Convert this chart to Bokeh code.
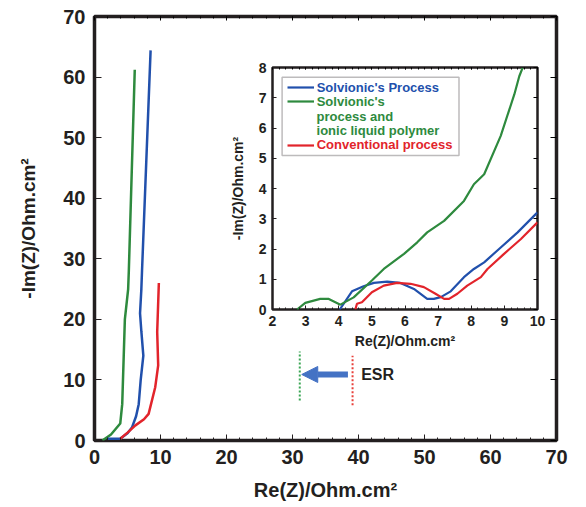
from bokeh.plotting import figure
from bokeh.models import (LinearAxis, SingleIntervalTicker, Range1d, Legend, LegendItem,
                          Label, BoxAnnotation, Arrow, NormalHead, CustomJSTickFormatter)
from bokeh.layouts import column
from bokeh.embed import file_html
from bokeh.resources import INLINE

# ---------------- data ----------------
# main plot, Nyquist curves
green_x = [1.2, 2.5, 3.9, 4.2, 4.6, 5.1, 5.2, 6.1]
green_y = [0.0, 1.0, 2.8, 6.0, 20.0, 25.0, 28.0, 61.2]
blue_x = [1.9, 3.9, 5.0, 5.7, 6.3, 6.7, 7.0, 7.4, 7.1, 6.9, 7.1, 7.2, 8.5]
blue_y = [0.3, 0.3, 1.2, 2.2, 4.0, 6.0, 10.0, 14.0, 18.0, 21.0, 25.0, 28.0, 64.4]
red_x = [3.9, 5.0, 6.2, 7.5, 8.2, 9.2, 9.65, 9.5, 9.75]
red_y = [0.3, 1.3, 2.5, 3.5, 4.4, 8.8, 12.4, 17.9, 26.0]

# inset (zoom on the high-frequency part)
in_green_x = [2.74, 2.99, 3.44, 3.70, 4.05, 4.45, 5.0, 5.36, 5.97, 6.37, 6.67, 7.18, 7.78, 8.08, 8.39, 8.89, 9.30, 9.45, 9.55]
in_green_y = [0.0, 0.22, 0.35, 0.35, 0.16, 0.40, 0.96, 1.34, 1.84, 2.22, 2.55, 2.93, 3.59, 4.14, 4.47, 5.74, 7.11, 7.71, 7.99]
in_blue_x = [4.03, 4.40, 4.75, 5.06, 5.46, 5.86, 6.27, 6.67, 6.87, 7.08, 7.38, 7.78, 8.08, 8.39, 8.89, 9.40, 10.0]
in_blue_y = [0.0, 0.60, 0.77, 0.88, 0.92, 0.88, 0.68, 0.35, 0.35, 0.41, 0.60, 1.07, 1.34, 1.56, 2.05, 2.55, 3.21]
in_red_x = [4.50, 4.55, 4.70, 5.0, 5.36, 5.76, 6.17, 6.57, 6.92, 7.18, 7.33, 7.58, 7.88, 8.29, 8.49, 8.99, 9.50, 10.0]
in_red_y = [0.0, 0.19, 0.24, 0.57, 0.79, 0.88, 0.85, 0.74, 0.52, 0.35, 0.35, 0.52, 0.79, 1.07, 1.34, 1.84, 2.33, 2.88]

labels = ["Solvionic's Process", "Solvionic's", "process and", "ionic liquid polymer", "Conventional process"]

# ESR marker values (main-plot units)
esr_green_x = 31.1
esr_red_x = 39.1
esr_green_y = [6.6, 14.7]
esr_red_y = [5.8, 14.0]
esr_arrow = (38.4, 31.4, 10.9)

# ---------------- style ----------------
BLUE = "#2150ac"
GREEN = "#2e8a3e"
RED = "#e2242b"
DARK = "#231f20"
ARROW_C = "#4472c4"
FONT = "Liberation Sans"

BL, BR, BT, BB = 94, 22, 16, 67   # main-plot borders (left/right shared with the inset)
W, H = 578, 507

blank = CustomJSTickFormatter(code="return ''")

# ---------------- main figure ----------------
p = figure(width=W, height=H, x_range=Range1d(0, 70), y_range=Range1d(0, 70),
           output_backend="svg", toolbar_location=None,
           min_border_left=BL, min_border_right=BR, min_border_top=BT, min_border_bottom=BB)
p.grid.visible = False
p.outline_line_color = DARK
p.outline_line_width = 3.5
p.background_fill_color = "white"

for ax in (p.xaxis[0], p.yaxis[0]):
    ax.ticker = SingleIntervalTicker(interval=10, num_minor_ticks=5)
    ax.axis_line_alpha = 0
    ax.major_tick_out = 0
    ax.minor_tick_out = 0
    ax.major_tick_line_color = DARK
    ax.minor_tick_line_color = DARK
    ax.major_label_text_font = FONT
    ax.major_label_text_font_style = "bold"
    ax.major_label_text_font_size = "20px"
    ax.major_label_text_color = DARK
    ax.axis_label_text_font = FONT
    ax.axis_label_text_font_style = "bold"
    ax.axis_label_text_color = DARK

p.xaxis.axis_label = "Re(Z)/Ohm.cm²"
p.xaxis.axis_label_text_font_size = "20px"
p.xaxis.major_tick_in = 6
p.xaxis.minor_tick_in = 3
p.xaxis.major_label_standoff = 9
p.xaxis.axis_label_standoff = 12

p.yaxis.axis_label = "-Im(Z)/Ohm.cm²"
p.yaxis.axis_label_text_font_size = "19px"
p.yaxis.major_tick_in = 7
p.yaxis.minor_tick_in = 0
p.yaxis.major_label_standoff = 9
p.yaxis.axis_label_standoff = 21

top_ax = LinearAxis(ticker=SingleIntervalTicker(interval=10, num_minor_ticks=5),
                    major_tick_in=4, major_tick_out=0, minor_tick_in=2, minor_tick_out=0,
                    formatter=blank, axis_line_alpha=0, major_label_standoff=0)
right_ax = LinearAxis(ticker=SingleIntervalTicker(interval=10, num_minor_ticks=5),
                      major_tick_in=6, major_tick_out=0, minor_tick_in=0, minor_tick_out=0,
                      formatter=blank, axis_line_alpha=0, major_label_standoff=0)
p.add_layout(top_ax, "above")
p.add_layout(right_ax, "right")

p.line(green_x, green_y, line_color=GREEN, line_width=2.5)
p.line(blue_x, blue_y, line_color=BLUE, line_width=2.5)
p.line(red_x, red_y, line_color=RED, line_width=2.5)

# ESR annotation
p.line([esr_green_x, esr_green_x], esr_green_y, line_color="#3aa655", line_width=2, line_dash="2 2")
p.line([esr_red_x, esr_red_x], esr_red_y, line_color="#e8403a", line_width=2, line_dash="2 2")
p.add_layout(Arrow(end=NormalHead(size=16, fill_color=ARROW_C, line_color=ARROW_C),
                   x_start=esr_arrow[0], x_end=esr_arrow[1], y_start=esr_arrow[2], y_end=esr_arrow[2],
                   line_color=ARROW_C, line_width=6))
p.add_layout(Label(x=40.4, y=esr_arrow[2], text="ESR", text_font=FONT, text_font_style="bold",
                   text_font_size="16px", text_color=DARK, text_baseline="middle"))

# ---------------- inset figure ----------------
IFW, IFH = 265, 242          # inset frame size
IBT, IBB = 8, 52
q = figure(width=BL + IFW + BR, height=IBT + IFH + IBB, x_range=Range1d(2, 10), y_range=Range1d(0, 8),
           output_backend="svg", toolbar_location=None,
           min_border_left=BL, min_border_right=BR, min_border_top=IBT, min_border_bottom=IBB)
q.grid.visible = False
q.outline_line_color = DARK
q.outline_line_width = 2.5
q.background_fill_alpha = 0
q.border_fill_alpha = 0

for ax in (q.xaxis[0], q.yaxis[0]):
    ax.ticker = SingleIntervalTicker(interval=1, num_minor_ticks=5)
    ax.axis_line_alpha = 0
    ax.major_tick_out = 0
    ax.minor_tick_out = 0
    ax.major_tick_in = 4
    ax.major_tick_line_color = DARK
    ax.minor_tick_line_color = DARK
    ax.major_label_text_font = FONT
    ax.major_label_text_font_style = "bold"
    ax.major_label_text_font_size = "14px"
    ax.major_label_text_color = DARK
    ax.axis_label_text_font = FONT
    ax.axis_label_text_font_style = "bold"
    ax.axis_label_text_color = DARK
    ax.axis_label_text_font_size = "14px"
q.xaxis.axis_label = "Re(Z)/Ohm.cm²"
q.xaxis.minor_tick_in = 2
q.xaxis.major_label_standoff = 6
q.xaxis.axis_label_standoff = 4
q.yaxis.axis_label = "-Im(Z)/Ohm.cm²"
q.yaxis.minor_tick_in = 0
q.yaxis.major_label_standoff = 6
q.yaxis.axis_label_standoff = 10

q.add_layout(LinearAxis(ticker=SingleIntervalTicker(interval=1, num_minor_ticks=5),
                        major_tick_in=2, major_tick_out=0, minor_tick_in=2, minor_tick_out=0,
                        formatter=blank, axis_line_alpha=0, major_label_standoff=0), "above")
q.add_layout(LinearAxis(ticker=SingleIntervalTicker(interval=1, num_minor_ticks=5),
                        major_tick_in=4, major_tick_out=0, minor_tick_in=0, minor_tick_out=0,
                        formatter=blank, axis_line_alpha=0, major_label_standoff=0), "right")

rb = q.line(in_blue_x, in_blue_y, line_color=BLUE, line_width=2.2)
rg = q.line(in_green_x, in_green_y, line_color=GREEN, line_width=2.2)
rr = q.line(in_red_x, in_red_y, line_color=RED, line_width=2.2)

# legend box
q.add_layout(BoxAnnotation(left=2.29, right=7.63, bottom=5.09, top=7.68,
                           fill_alpha=0, line_color=DARK, line_width=1.5))


def make_legend(label, rend, color, loc):
    lg = Legend(items=[LegendItem(label=label, renderers=[rend])], location=loc,
                orientation="vertical", padding=0, margin=0, spacing=0,
                glyph_width=27, glyph_height=14, label_height=14, label_standoff=3,
                label_text_font=FONT, label_text_font_style="bold",
                label_text_font_size="13px", label_text_color=color,
                border_line_alpha=0, background_fill_alpha=0)
    q.add_layout(lg)


make_legend(labels[0], rb, BLUE, (14.7, 214.3))
make_legend(labels[1], rg, GREEN, (14.7, 200.3))
make_legend(labels[4], rr, RED, (14.7, 157.0))
for txt, yy in ((labels[2], 6.39), (labels[3], 5.92)):
    q.add_layout(Label(x=3.33, y=yy, text=txt, text_font=FONT, text_font_style="bold",
                       text_font_size="13px", text_color=GREEN, text_baseline="middle"))

# place the inset so that its frame sits at (272, 67) on the page
q.styles = {"position": "absolute", "left": f"{272 - BL}px", "top": f"{67 - IBT}px", "z-index": "5"}

layout = column(p, q)
open("out.html", "w").write(file_html(layout, INLINE))
